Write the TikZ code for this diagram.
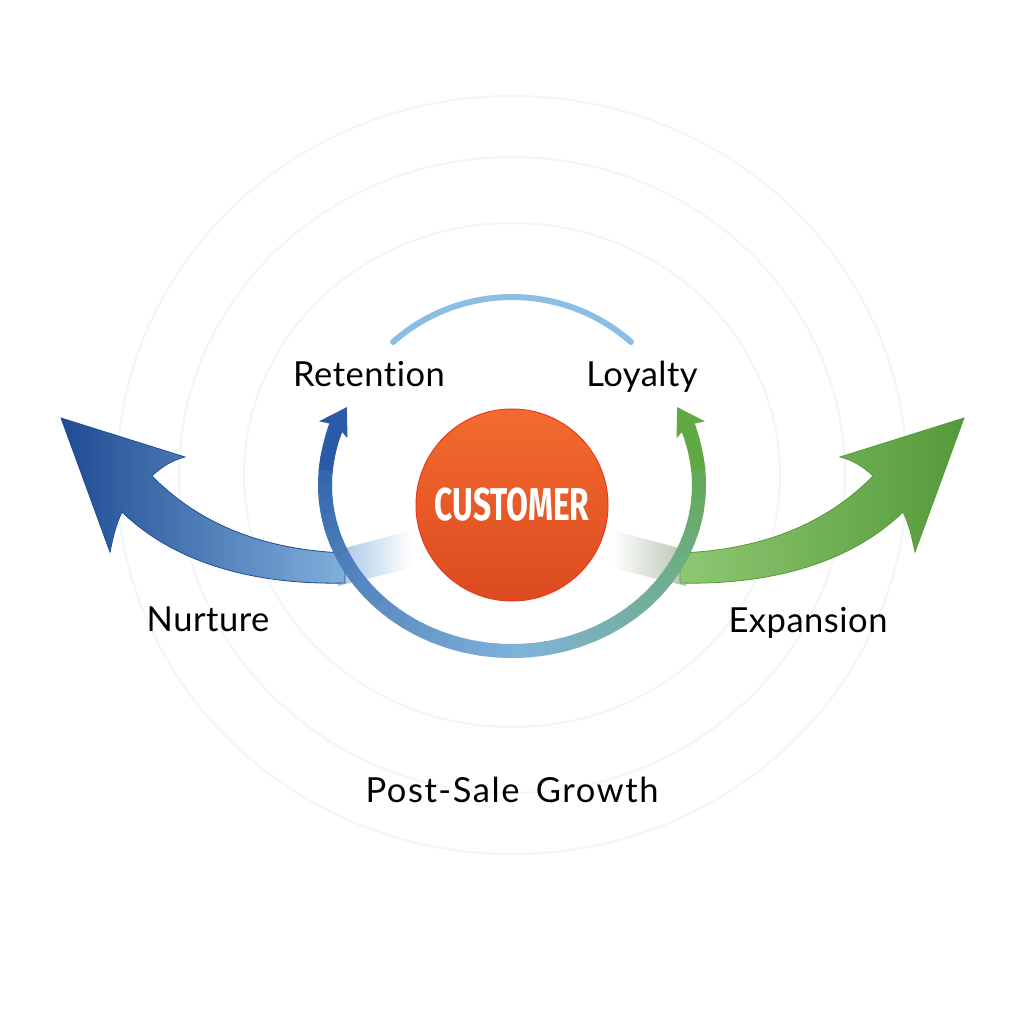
\documentclass[tikz,border=0pt]{standalone}
\usepackage{fontspec}
\setmainfont{Lato}[Ligatures={NoCommon}, LetterSpace=1.5]
\newfontfamily\custfont{Fira Sans}
\usepackage{tikz}
\usetikzlibrary{positioning, arrows.meta}
\usepackage{xcolor}

\definecolor{nurtureDark}{HTML}{1F4C93}
\definecolor{nurtureLight}{HTML}{80AFDC}
\definecolor{growDark}{HTML}{55993A}
\definecolor{growLight}{HTML}{8FC873}
\definecolor{loopBlue}{HTML}{2A5BA6}
\definecolor{loopMid}{HTML}{80B3DA}
\definecolor{loopGreen}{HTML}{5FA843}
\definecolor{arcBlue}{HTML}{8CBEE4}
\definecolor{custTop}{HTML}{F36B30}
\definecolor{custBot}{HTML}{DC4A1F}
\definecolor{custRim}{HTML}{E83A1C}
\definecolor{ringGray}{HTML}{F4F5F6}

\begin{document}
\begin{tikzpicture}[x=1pt, y=-1pt,
    ring/.style={draw=ringGray, line width=2pt},
    txt/.style={anchor=base, font=\fontsize{34.5}{38}\selectfont, text=black},
    loopseg/.style={line width=14pt},
    bigarrow/.style={line width=0.8pt, line join=miter}]
    \useasboundingbox[fill=white] (0,0) rectangle (1024,1024);

    % Faint rings behind everything
    \foreach \rx/\ry in {268/252, 333/318, 395/379}
        \draw[ring] (512,475) ellipse[x radius=\rx, y radius=\ry];

    % Soft fades from the customer into the big arrows
    \shade[left color=nurtureLight!70, right color=white]
        (338,550) -- (412,530) -- (412,568) -- (338,586) -- cycle;
    \shade[left color=white, right color=growDark!35!gray!50]
        (612,530) -- (686,550) -- (686,586) -- (612,568) -- cycle;

    % Panel left: Nurture arrow
    \begin{scope}
        \shade[bigarrow, draw=nurtureDark, left color=nurtureDark, right color=nurtureLight]
            (345,553) .. controls (265,550) and (200,525) .. (152,476)
            .. controls (160,468) and (172,460) .. (185,457)
            -- (61,418) -- (110,552)
            .. controls (113,538) and (116,524) .. (122,512)
            .. controls (180,568) and (265,585) .. (345,583) -- cycle;
    \end{scope}

    % Panel right: Expansion arrow (mirrored, shading is not flipped)
    \begin{scope}[shift={(1025,0)}, xscale=-1]
        \shade[bigarrow, draw=growDark, left color=growLight, right color=growDark]
            (345,553) .. controls (265,550) and (200,525) .. (152,476)
            .. controls (160,468) and (172,460) .. (185,457)
            -- (61,418) -- (110,552)
            .. controls (113,538) and (116,524) .. (122,512)
            .. controls (180,568) and (265,585) .. (345,583) -- cycle;
    \end{scope}

    % Top arc between Retention and Loyalty
    \draw[arcBlue, line width=6pt, line cap=round]
        (393,342) arc[start angle=228.6, end angle=311.4, radius=180];

    % Customer in the middle
    \node[circle, minimum size=192pt, draw=custRim, line width=1pt,
          top color=custTop, bottom color=custBot, text=white] (cust) at (512,505)
        {\scalebox{0.69}[1]{\custfont\bfseries\fontsize{46}{46}\selectfont CUSTOMER}};

    % Loop arrow round the customer, blue to green
    \coordinate (loopc) at (512,485);
    \foreach \i in {0,...,43} {
        \pgfmathsetmacro\a{200-5*\i}
        \pgfmathsetmacro\b{\a-5.8}
        \ifnum\i<22
            \pgfmathtruncatemacro\p{100*\i/22}
            \colorlet{segc}{loopMid!\p!loopBlue}
        \else
            \pgfmathtruncatemacro\p{100*(\i-22)/21}
            \colorlet{segc}{loopGreen!\p!loopMid}
        \fi
        \draw[loopseg, segc] (loopc) ++(\a:187 and 166)
            arc[start angle=\a, end angle=\b, x radius=187, y radius=166];
    }
    \draw[loopseg, loopBlue, {Stealth[length=26pt, width=32pt, inset=5pt]}-]
        (loopc) ++(208:187 and 166) arc[start angle=208, end angle=185, x radius=187, y radius=166];
    \draw[loopseg, loopGreen, {Stealth[length=26pt, width=32pt, inset=5pt]}-]
        (loopc) ++(-28:187 and 166) arc[start angle=-28, end angle=-5, x radius=187, y radius=166];

    % Labels
    \node[txt] (retention) at (369,386) {Retention};
    \node[txt] (loyalty) at (642,386) {Loyalty};
    \node[txt] (nurture) at (208,631) {Nurture};
    \node[txt] (expansion) at (808,632) {Expansion};
    \node[txt] (growth) at (512,802) {\addfontfeature{LetterSpace=4.5}Post-Sale\hspace{6pt} Growth};
\end{tikzpicture}
\end{document}
